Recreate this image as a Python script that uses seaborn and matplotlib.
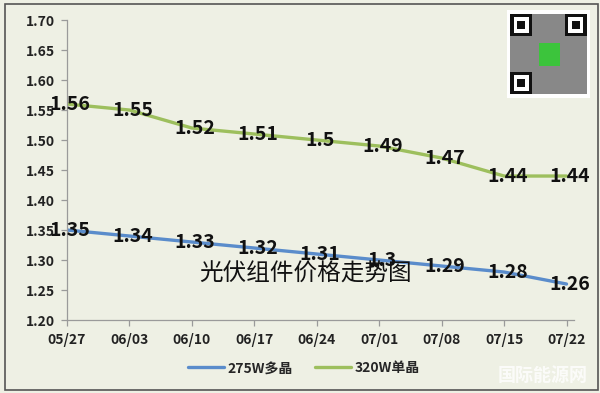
import matplotlib
matplotlib.use("Agg")
import matplotlib.pyplot as plt
import seaborn as sns
import pandas as pd
from matplotlib.patches import Rectangle

dates = ['05/27', '06/03', '06/10', '06/17', '06/24', '07/01', '07/08', '07/15', '07/22']
poly_275w = [1.35, 1.34, 1.33, 1.32, 1.31, 1.30, 1.29, 1.28, 1.26]
mono_320w = [1.56, 1.55, 1.52, 1.51, 1.50, 1.49, 1.47, 1.44, 1.44]
series_names = ['275W多晶', '320W单晶']
yticks = [1.20, 1.25, 1.30, 1.35, 1.40, 1.45, 1.50, 1.55, 1.60, 1.65, 1.70]
title = '光伏组件价格走势图'

sns.set_theme(style='white')
plt.rcParams['font.family'] = ['Noto Sans CJK SC', 'DejaVu Sans']

bg = '#eef0e4'
colors = {'275W多晶': '#5a8ccb', '320W单晶': '#9dbf5d'}

df = pd.DataFrame({
    'date': dates * 2,
    'x': list(range(len(dates))) * 2,
    'price': poly_275w + mono_320w,
    'series': [series_names[0]] * len(dates) + [series_names[1]] * len(dates),
})

fig = plt.figure(figsize=(6.0, 3.93), dpi=100)
fig.patch.set_facecolor(bg)
ax = fig.add_axes([0.1117, 0.1857, 0.845, 0.7633])
ax.set_facecolor(bg)

sns.lineplot(data=df, x='x', y='price', hue='series', palette=colors,
             linewidth=2.4, ax=ax, legend=False, sort=False)

ax.set_xlim(0, len(dates) - 1 + 0.12)
ax.set_ylim(1.20, 1.70)
ax.set_yticks(yticks)
ax.set_yticklabels([f'{v:.2f}' for v in yticks], fontsize=10, fontweight='bold', color='#222222')
ax.set_xticks(range(len(dates)))
ax.set_xticklabels(dates, fontsize=10, fontweight='bold', color='#222222')
ax.set_xlabel('')
ax.set_ylabel('')
for s in ['top', 'right']:
    ax.spines[s].set_visible(False)
for s in ['left', 'bottom']:
    ax.spines[s].set_color('#9a9a9a')
    ax.spines[s].set_linewidth(0.9)
ax.tick_params(axis='both', which='both', length=4, width=0.9, color='#9a9a9a',
               direction='out', left=True, bottom=True, pad=5)

for vals in (poly_275w, mono_320w):
    for i, v in enumerate(vals):
        ax.text(i + 0.05, v, f'{v:g}', ha='center', va='center', fontsize=14,
                fontweight='bold', color='#111111', zorder=5)

ax.text(3.82, 1.277, title, ha='center', va='center', fontsize=17,
        fontweight='medium', color='#111111')

# legend at bottom
handles = [plt.Line2D([], [], color=colors[n], linewidth=2.4) for n in series_names]
fig.legend(handles, series_names, loc='center', bbox_to_anchor=(0.507, 0.063), ncol=2,
           frameon=False, prop={'size': 10, 'weight': 'bold'}, handlelength=2.6,
           handletextpad=0.25, columnspacing=1.6)

# QR-code-like decoration
qr = fig.add_axes([507 / 600, 1 - 98 / 393, 83 / 600, 88 / 393])
qr.set_xlim(0, 1)
qr.set_ylim(0, 1)
qr.axis('off')
qr.add_patch(Rectangle((0, 0), 1, 1, facecolor='#ffffff', edgecolor='none'))
qr.add_patch(Rectangle((0.04, 0.04), 0.92, 0.92, facecolor='#888888', edgecolor='none', hatch='xx'))
for (fx, fy) in [(0.04, 0.70), (0.70, 0.70), (0.04, 0.04)]:
    qr.add_patch(Rectangle((fx, fy), 0.26, 0.26, facecolor='#111111', edgecolor='none'))
    qr.add_patch(Rectangle((fx + 0.04, fy + 0.04), 0.18, 0.18, facecolor='white', edgecolor='none'))
    qr.add_patch(Rectangle((fx + 0.08, fy + 0.08), 0.10, 0.10, facecolor='#111111', edgecolor='none'))
qr.add_patch(Rectangle((0.38, 0.36), 0.26, 0.26, facecolor='#3cc43c', edgecolor='none'))

# watermark
fig.text(0.905, 0.045, '国际能源网', ha='center', va='center', fontsize=13,
         color='#ffffff', alpha=0.8, fontweight='bold')

# outer frame
fig.add_artist(Rectangle((0.008, 0.008), 0.988, 0.982, transform=fig.transFigure,
                         facecolor='none', edgecolor='#555555', linewidth=1.2))

fig.savefig('out.png', dpi=100, facecolor=bg)
